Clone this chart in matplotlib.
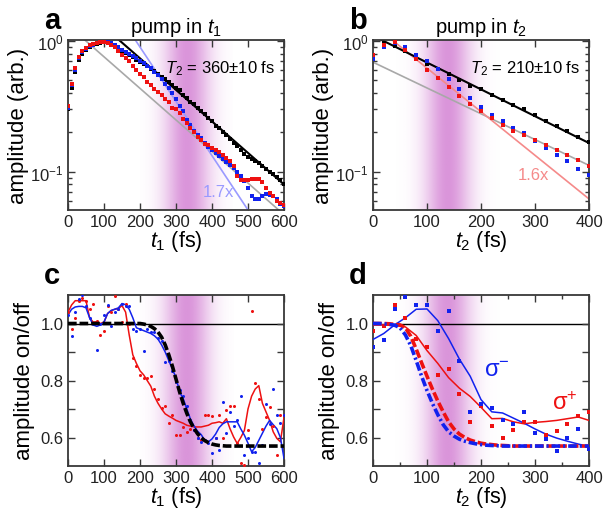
import numpy as np
import matplotlib
matplotlib.use('Agg')
import matplotlib.pyplot as plt
from matplotlib.ticker import MultipleLocator, NullFormatter, FixedLocator

plt.rcParams['font.family'] = ['Liberation Sans', 'DejaVu Sans']
plt.rcParams['mathtext.fontset'] = 'custom'
plt.rcParams['mathtext.rm'] = 'Liberation Sans'
plt.rcParams['mathtext.it'] = 'Liberation Sans:italic'
plt.rcParams['mathtext.bf'] = 'Liberation Sans:bold'

# ---------------- panel a data (t1, 10 fs steps) ----------------
t_a = np.arange(0, 601, 10)
black_a = [0.30, 0.44, 0.58, 0.72, 0.80, 0.86, 0.90, 0.93, 0.95, 0.97,
           0.98, 0.97, 0.94, 0.91, 0.87, 0.84, 0.81, 0.78, 0.755, 0.72,
           0.69, 0.67, 0.64, 0.615, 0.59, 0.56, 0.53, 0.51, 0.49, 0.46,
           0.44, 0.42, 0.39, 0.37, 0.345, 0.33, 0.31, 0.29, 0.275, 0.26,
           0.245, 0.225, 0.215, 0.20, 0.19, 0.178, 0.166, 0.157, 0.147, 0.138,
           0.13, 0.125, 0.12, 0.116, 0.11, 0.105, 0.10, 0.096, 0.091, 0.086, 0.081]
blue_a = [0.31, 0.46, 0.60, 0.74, 0.82, 0.87, 0.91, 0.94, 0.96, 0.98,
          0.99, 0.98, 0.96, 0.93, 0.90, 0.86, 0.83, 0.80, 0.77, 0.74,
          0.71, 0.68, 0.65, 0.62, 0.58, 0.55, 0.51, 0.47, 0.44, 0.40,
          0.36, 0.32, 0.29, 0.25, 0.23, 0.205, 0.19, 0.18, 0.167, 0.156,
          0.147, 0.14, 0.133, 0.125, 0.119, 0.112, 0.106, 0.099, 0.093, 0.085,
          0.075, 0.065, 0.062, 0.062, 0.065, 0.068, 0.067, 0.065, 0.062, 0.057, 0.055]
red_a = [0.32, 0.47, 0.62, 0.76, 0.84, 0.89, 0.93, 0.95, 0.97, 0.98,
         0.99, 0.97, 0.94, 0.90, 0.84, 0.78, 0.74, 0.70, 0.65, 0.60,
         0.56, 0.53, 0.49, 0.46, 0.43, 0.41, 0.385, 0.36, 0.34, 0.31,
         0.30, 0.28, 0.255, 0.235, 0.215, 0.20, 0.185, 0.175, 0.164, 0.16,
         0.153, 0.148, 0.141, 0.134, 0.128, 0.12, 0.111, 0.093, 0.087, 0.086,
         0.087, 0.088, 0.088, 0.088, 0.083, 0.075, 0.069, 0.065, 0.06, 0.058, 0.056]
fit_black_a_t = [140, 600]
fit_black_a_v = [1.03, 0.08]
fit_gray_a_t = [45, 600]
fit_gray_a_v = [1.03, 0.047]
fit_blue_a_t = [186, 500]
fit_blue_a_v = [1.03, 0.051]

# ---------------- panel b data (t2, 20 fs steps) ----------------
t_b = np.arange(0, 401, 20)
black_b = [0.76, 0.96, 0.91, 0.84, 0.75, 0.67, 0.61, 0.557, 0.506, 0.455,
           0.43, 0.39, 0.356, 0.325, 0.30, 0.27, 0.246, 0.226, 0.205, 0.186, 0.168]
red_b = [0.78, 0.94, 0.98, 0.86, 0.725, 0.604, 0.52, 0.446, 0.38, 0.328,
         0.29, 0.26, 0.23, 0.205, 0.19, 0.174, 0.16, 0.146, 0.135, 0.123, 0.11]
blue_b = [0.73, 0.90, 0.97, 0.90, 0.79, 0.70, 0.61, 0.515, 0.43, 0.367,
          0.315, 0.27, 0.244, 0.217, 0.197, 0.172, 0.152, 0.135, 0.12, 0.105, 0.095]
fit_black_b_t = [0, 400]
fit_black_b_v = [1.10, 0.166]
fit_gray_b_t = [0, 400]
fit_gray_b_v = [0.69, 0.112]
fit_red_b_t = [0, 400]
fit_red_b_v = [1.34, 0.062]

# ---------------- panel c data (t1, 10 fs steps) ----------------
t_c = np.arange(0, 601, 10)
red_dots_c = [1.04, 0.98, 1.02, 1.08, 1.09, 1.08, 1.05, 1.07, 1.01, 0.96,
              0.975, 1.06, 1.04, 1.095, 1.05, 1.005, 1.07, 1.0, 0.88, 0.85,
              0.82, 0.81, 0.81, 0.815, 0.77, 0.735, 0.705, 0.71, 0.65, 0.68,
              0.61, 0.61, 0.637, 0.62, 0.63, 0.625, 0.60, 0.59, 0.68, 0.68,
              0.675, 0.60, 0.678, 0.60, 0.698, 0.712, 0.712, 0.58, 0.51, 0.505,
              0.625, 1.043, 0.79, 0.736, 0.631, 0.672, 0.707, 0.64, 0.538, 0.678, 0.68]
blue_dots_c = [1.03, 0.955, 1.04, 1.085, 1.10, 1.063, 1.02, 1.0, 0.907, 1.0,
               1.03, 1.066, 0.99, 1.04, 1.05, 1.07, 1.06, 1.06, 0.98, 0.975,
               0.98, 0.904, 0.98, 0.97, 0.97, 0.95, 0.94, 0.865, 0.87, 0.832,
               0.794, 0.765, 0.745, 0.71, 0.66, 0.625, 0.60, 0.585, 0.59, 0.58,
               0.544, 0.60, 0.556, 0.724, 0.617, 0.691, 0.64, 0.66, 0.745, 0.538,
               0.60, 0.55, 0.55, 0.51, 0.573, 0.718, 0.649, 0.77, 0.678, 0.65, 0.678]
red_line_c = [1.04, 1.065, 1.08, 1.08, 1.08, 1.08, 1.02, 1.005, 1.006, 1.0,
              1.005, 1.035, 1.045, 1.05, 1.052, 1.063, 1.04, 0.96, 0.89, 0.86,
              0.834, 0.82, 0.80, 0.78, 0.745, 0.72, 0.70, 0.683, 0.675, 0.668,
              0.66, 0.655, 0.65, 0.643, 0.64, 0.637, 0.637, 0.637, 0.64, 0.643,
              0.65, 0.652, 0.655, 0.65, 0.666, 0.631, 0.602, 0.579, 0.60, 0.625,
              0.70, 0.745, 0.77, 0.782, 0.72, 0.69, 0.66, 0.62, 0.597, 0.585, 0.67]
blue_line_c = [1.03, 1.05, 1.058, 1.06, 1.06, 1.055, 1.02, 0.995, 0.99, 0.995,
               1.005, 1.035, 1.046, 1.05, 1.055, 1.07, 1.066, 1.05, 1.02, 0.985,
               0.98, 0.975, 0.97, 0.965, 0.957, 0.945, 0.925, 0.90, 0.87, 0.84,
               0.81, 0.76, 0.736, 0.70, 0.665, 0.64, 0.622, 0.61, 0.59, 0.585,
               0.595, 0.612, 0.635, 0.648, 0.655, 0.655, 0.655, 0.655, 0.63, 0.608,
               0.58, 0.55, 0.565, 0.59, 0.615, 0.64, 0.66, 0.645, 0.631, 0.60, 0.527]
model_c = [1.0, 1.0, 1.0, 1.0, 1.0, 1.0, 1.0, 1.0, 1.0, 1.0,
           1.0, 1.0, 1.0, 1.0, 1.0, 1.0, 1.0, 1.0, 1.0, 1.0,
           1.0, 0.998, 0.995, 0.99, 0.982, 0.97, 0.952, 0.925, 0.89, 0.85,
           0.805, 0.76, 0.72, 0.685, 0.655, 0.632, 0.613, 0.599, 0.589, 0.582,
           0.577, 0.574, 0.572, 0.571, 0.57, 0.57, 0.57, 0.57, 0.57, 0.57,
           0.57, 0.57, 0.57, 0.57, 0.57, 0.57, 0.57, 0.57, 0.57, 0.57, 0.57]

# ---------------- panel d data (t2) ----------------
t_d = np.arange(0, 401, 20)
red_sq_d = [0.973, 0.99, 1.066, 1.02, 0.946, 0.918, 0.82, 0.84, 0.753, 0.656,
            0.712, 0.642, 0.598, 0.628, 0.655, 0.655, 0.608, 0.624, 0.649, 0.675, 0.688]
blue_sq_d = [0.919, 0.942, 1.051, 1.093, 1.066, 1.066, 0.973, 1.043, 0.869, 0.691,
             0.718, 0.704, 0.66, 0.649, 0.691, 0.617, 0.594, 0.554, 0.597, 0.629, 0.558]
blue_line_d = [0.944, 0.965, 0.995, 1.02, 1.05, 1.051, 1.01, 0.947, 0.875, 0.815,
               0.733, 0.69, 0.686, 0.668, 0.65, 0.63, 0.612, 0.598, 0.587, 0.577, 0.568]
red_line_d = [0.995, 0.995, 0.993, 0.988, 0.958, 0.905, 0.86, 0.81, 0.773, 0.744,
              0.706, 0.666, 0.667, 0.655, 0.648, 0.653, 0.656, 0.66, 0.666, 0.672, 0.66]
t_dm = np.arange(0, 401, 10)
red_model_d = [1.0, 1.0, 1.0, 0.999, 0.997, 0.995, 0.985, 0.955, 0.91, 0.862,
               0.815, 0.77, 0.728, 0.69, 0.655, 0.63, 0.612, 0.60, 0.591, 0.585,
               0.58, 0.577, 0.575, 0.573, 0.572, 0.571, 0.57, 0.57, 0.57, 0.57,
               0.57, 0.57, 0.57, 0.57, 0.57, 0.57, 0.57, 0.57, 0.57, 0.57, 0.57]
blue_model_d = [1.0, 1.0, 0.999, 0.997, 0.994, 0.985, 0.96, 0.922, 0.87, 0.815,
                0.765, 0.72, 0.68, 0.645, 0.62, 0.605, 0.594, 0.587, 0.582, 0.578,
                0.575, 0.573, 0.572, 0.571, 0.57, 0.57, 0.57, 0.57, 0.57, 0.57,
                0.57, 0.57, 0.57, 0.57, 0.57, 0.57, 0.57, 0.57, 0.57, 0.57, 0.57]

RED = '#ee1111'
BLUE = '#1122ee'
SPINE = '#383838'
TICK_FS = 12
LABEL_FS = 16
XLABEL_FS = 15.5
TITLE_FS = 14.5

fig = plt.figure(figsize=(6.15, 5.10), dpi=100)
W, H = 615.0, 510.0
axa = fig.add_axes([68 / W, 1 - 211 / H, 216 / W, 170 / H])
axb = fig.add_axes([373 / W, 1 - 211 / H, 216 / W, 170 / H])
axc = fig.add_axes([68 / W, 1 - 467 / H, 216 / W, 171 / H])
axd = fig.add_axes([373 / W, 1 - 467 / H, 216 / W, 171 / H])


def band(ax, x0, x1, center, sigma):
    xs = np.linspace(x0, x1, 500)
    prof = np.exp(-0.5 * ((xs - center) / sigma) ** 2)
    rgba = np.zeros((1, len(xs), 4))
    rgba[..., 0] = 0.80
    rgba[..., 1] = 0.42
    rgba[..., 2] = 0.80
    rgba[..., 3] = 0.72 * prof
    ax.imshow(rgba, extent=(x0, x1, 0, 1), transform=ax.get_xaxis_transform(),
              aspect='auto', zorder=0, interpolation='bilinear')


def style(ax, xmajor, xminor=None):
    for s in ax.spines.values():
        s.set_linewidth(1.3)
        s.set_color(SPINE)
    ax.tick_params(which='both', direction='in', top=True, right=True,
                   color=SPINE, labelsize=TICK_FS, labelcolor='#222222', width=1.0)
    ax.tick_params(which='major', length=5, pad=3)
    ax.tick_params(which='minor', length=3)
    ax.xaxis.set_major_locator(MultipleLocator(xmajor))
    if xminor:
        ax.xaxis.set_minor_locator(MultipleLocator(xminor))


# ---- panel a ----
band(axa, 200, 460, 330, 45)
axa.plot(fit_gray_a_t, fit_gray_a_v, color='#a8a8a8', lw=1.2, zorder=2)
axa.plot(fit_blue_a_t, fit_blue_a_v, color='#9a9aff', lw=1.2, zorder=2)
axa.plot(fit_black_a_t, fit_black_a_v, color='black', lw=1.5, zorder=2)
axa.plot(t_a, black_a, 's', color='black', ms=2.2, mew=0, zorder=3)
axa.plot(t_a, blue_a, 's', color=BLUE, ms=2.2, mew=0, zorder=3)
axa.plot(t_a, red_a, 's', color=RED, ms=2.2, mew=0, zorder=3)
axa.set_yscale('log')
axa.set_xlim(0, 600)
axa.set_ylim(0.051, 1.02)
style(axa, 100)
axa.yaxis.set_minor_formatter(NullFormatter())
axa.set_ylabel('amplitude (arb.)', fontsize=LABEL_FS, labelpad=1)
axa.set_xlabel(r'$\mathit{t_1}$ (fs)', fontsize=XLABEL_FS, labelpad=-1)
axa.set_title(r'pump in $\mathit{t_1}$', fontsize=TITLE_FS, pad=6)
axa.text(0.96, 0.835, r'$\mathit{T_2}$ = 360±10 fs', transform=axa.transAxes,
         ha='right', va='center', fontsize=12)
axa.text(0.625, 0.11, '1.7x', transform=axa.transAxes, color='#9a9aff',
         ha='left', va='center', fontsize=12)

# ---- panel b ----
band(axb, 40, 235, 137, 30)
axb.plot(fit_gray_b_t, fit_gray_b_v, color='#a8a8a8', lw=1.2, zorder=2)
axb.plot(fit_red_b_t, fit_red_b_v, color='#f58a8a', lw=1.2, zorder=2)
axb.plot(fit_black_b_t, fit_black_b_v, color='black', lw=1.5, zorder=2)
axb.plot(t_b, black_b, 's', color='black', ms=2.4, mew=0, zorder=3)
axb.plot(t_b, blue_b, 's', color=BLUE, ms=2.4, mew=0, zorder=3)
axb.plot(t_b, red_b, 's', color=RED, ms=2.4, mew=0, zorder=3)
axb.set_yscale('log')
axb.set_xlim(0, 400)
axb.set_ylim(0.051, 1.02)
style(axb, 100)
axb.yaxis.set_minor_formatter(NullFormatter())
axb.set_ylabel('amplitude (arb.)', fontsize=LABEL_FS, labelpad=1)
axb.set_xlabel(r'$\mathit{t_2}$ (fs)', fontsize=XLABEL_FS, labelpad=-1)
axb.set_title(r'pump in $\mathit{t_2}$', fontsize=TITLE_FS, pad=6)
axb.text(0.96, 0.835, r'$\mathit{T_2}$ = 210±10 fs', transform=axb.transAxes,
         ha='right', va='center', fontsize=12)
axb.text(0.67, 0.206, '1.6x', transform=axb.transAxes, color='#f58a8a',
         ha='left', va='center', fontsize=12)

# ---- panel c ----
band(axc, 200, 460, 330, 45)
axc.axhline(1.0, color='black', lw=1.0, zorder=1)
axc.plot(t_c, model_c, color='black', lw=2.6, dashes=(2.4, 0.8), zorder=4)
axc.plot(t_c, red_line_c, color=RED, lw=1.1, zorder=3)
axc.plot(t_c, blue_line_c, color=BLUE, lw=1.1, zorder=3)
axc.plot(t_c, red_dots_c, 'o', color=RED, ms=2.2, mew=0, zorder=3)
axc.plot(t_c, blue_dots_c, 'o', color=BLUE, ms=2.2, mew=0, zorder=3)
axc.set_xlim(0, 600)
axc.set_ylim(0.5, 1.1)
style(axc, 100)
axc.yaxis.set_major_locator(FixedLocator([0.6, 0.8, 1.0]))
axc.yaxis.set_minor_locator(FixedLocator([0.7, 0.9]))
axc.tick_params(which='minor', axis='y', length=5)
axc.set_ylabel('amplitude on/off', fontsize=LABEL_FS, labelpad=4)
axc.set_xlabel(r'$\mathit{t_1}$ (fs)', fontsize=XLABEL_FS, labelpad=-1)

# ---- panel d ----
band(axd, 40, 235, 137, 30)
axd.axhline(1.0, color='black', lw=1.0, zorder=1)
axd.plot(t_dm, red_model_d, color=RED, lw=2.6, dashes=(2.4, 0.8), zorder=4)
axd.plot(t_dm, blue_model_d, color=BLUE, lw=2.6, dashes=(2.4, 0.8, 0.6, 0.8), zorder=4)
axd.plot(t_d, red_line_d, color=RED, lw=1.1, zorder=3)
axd.plot(t_d, blue_line_d, color=BLUE, lw=1.1, zorder=3)
axd.plot(t_d, red_sq_d, 's', color=RED, ms=2.8, mew=0, zorder=3)
axd.plot(t_d, blue_sq_d, 's', color=BLUE, ms=2.8, mew=0, zorder=3)
axd.set_xlim(0, 400)
axd.set_ylim(0.5, 1.1)
style(axd, 100, 50)
axd.yaxis.set_major_locator(FixedLocator([0.6, 0.8, 1.0]))
axd.yaxis.set_minor_locator(FixedLocator([0.7, 0.9]))
axd.tick_params(which='minor', axis='y', length=5)
axd.set_ylabel('amplitude on/off', fontsize=LABEL_FS, labelpad=4)
axd.set_xlabel(r'$\mathit{t_2}$ (fs)', fontsize=XLABEL_FS, labelpad=-1)
axd.text(0.575, 0.56, r'σ$^{-}$', transform=axd.transAxes, color=BLUE,
         ha='center', va='center', fontsize=17)
axd.text(0.89, 0.37, r'σ$^{+}$', transform=axd.transAxes, color=RED,
         ha='center', va='center', fontsize=17)

# panel letters
for lab, x, y in [('a', 44, 21), ('b', 349, 21), ('c', 44, 276), ('d', 349, 276)]:
    fig.text(x / W, 1 - y / H, lab, fontsize=21, fontweight='bold',
             ha='left', va='center')

fig.savefig('out.png', dpi=100)
